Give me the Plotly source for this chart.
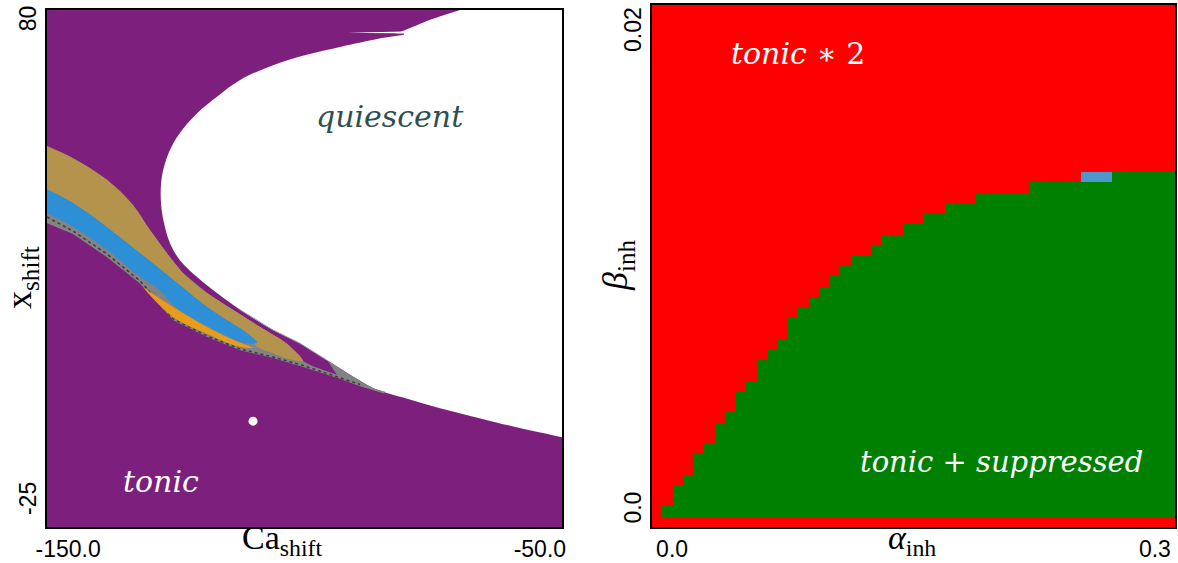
import plotly.graph_objects as go

# ---------------- left panel: regions in (Ca_shift, x_shift) ----------------
quiescent_ca = [-64.0, -40.0, -40.0, -44.6, -60.7, -67.2, -73.7, -80.2, -86.6, -90.5,
                -95.7, -100.9, -106.1, -112.5, -117.0, -120.9, -124.2, -126.1, -127.4,
                -127.9, -127.7, -126.4, -124.2, -120.9, -117.0, -112.5, -106.1, -99.6,
                -93.1, -85.3, -80.9, -75.6, -69.8]
quiescent_x = [82.0, 90.0, -8.6, -7.9, -4.3, -2.6, -0.9, 1.1, 3.2, 5.5,
               8.9, 12.3, 15.0, 19.1, 22.5, 25.8, 29.2, 32.6, 37.3,
               41.4, 46.1, 50.9, 55.0, 59.0, 62.4, 65.8, 68.8, 70.9,
               72.5, 74.3, 75.73, 78.0, 80.0]
spike_ca = [-91.6, -80.7, -80.7]
spike_x = [75.4, 75.63, 75.24]
sliver_ca = [-86.9, -80.7, -80.7, -85.3, -86.9]
sliver_x = [75.16, 75.24, 74.96, 74.31, 74.0]

tan_upper_ca = [-151.0, -144.95, -138.35, -133.3, -130.0, -126.7, -123.6, -118.9,
                -113.9, -108.6, -103.4, -100.3]
tan_upper_x = [52.8, 49.9, 45.5, 40.4, 35.3, 30.6, 26.6, 22.5, 19.1, 15.6, 12.2, 8.7]
tan_lower_ca = [-102.2, -106.1, -109.2, -111.2, -115.0, -118.9, -125.5, -131.9,
                -138.35, -144.95, -151.0]
tan_lower_x = [8.9, 10.3, 11.6, 14.4, 17.0, 19.7, 25.2, 30.6, 35.9, 40.8, 44.1]

blue_ca = [-151.0, -144.95, -138.35, -131.9, -125.5, -118.9, -115.0, -111.2, -109.2,
           -112.5, -118.9, -125.5, -128.1, -131.9, -138.35, -144.95, -151.0]
blue_x = [44.1, 40.8, 35.9, 30.6, 25.2, 19.7, 17.0, 14.4, 12.4,
          12.6, 15.8, 20.1, 23.1, 25.8, 31.3, 36.0, 39.2]

orange_ca = [-131.4, -125.5, -118.9, -112.5, -110.0, -112.5, -118.9, -125.5, -130.4]
orange_x = [23.7, 19.7, 15.6, 12.4, 11.4, 11.6, 14.2, 17.6, 22.5]

mixed_tip_ca = [-98.5, -93.7, -95.6, -90.6, -86.7, -84.2]
mixed_tip_x = [7.7, 5.9, 8.9, 5.5, 3.2, 2.4]
mixed_lower_ca = [-84.6, -89.2, -93.7, -100.3, -106.1, -112.5, -118.9, -125.5, -131.9,
                  -138.35, -144.95, -151.0]
mixed_lower_x = [2.1, 3.6, 5.3, 7.5, 9.3, 10.9, 13.6, 17.0, 24.4, 29.8, 34.5, 37.1]

speckle_ca = [-150.0, -144.95, -138.35, -131.9, -125.5, -118.9, -112.5, -106.1,
              -100.3, -93.7, -89.2]
speckle_x = [37.96, 35.11, 30.44, 24.96, 17.24, 13.79, 11.15, 9.52, 7.80, 5.46, 3.94]

edge_ca = [-112.5, -106.1, -100.9, -95.7]
edge_x = [19.1, 15.0, 12.3, 8.9]

marker_ca = [-110.0]
marker_x = [-3.5]

left_xtick_pos = [-145.9, -54.3]
left_xtick_text = ["-150.0", "-50.0"]
left_ytick_pos = [77.6, -19.9]
left_ytick_text = ["80", "-25"]

# ---------------- right panel: (alpha_inh, beta_inh) grid ----------------
n_alpha, n_beta = 50, 50
alpha_vals = [0.3 * i / (n_alpha - 1) for i in range(n_alpha)]
beta_vals = [0.02 * j / (n_beta - 1) for j in range(n_beta)]
# number of green ("tonic + suppressed") rows above the bottom row, per alpha column
green_rows = [0, 1, 3, 4, 6, 7, 9, 10, 12, 13, 15, 16, 17, 19, 20, 21, 22, 23, 24,
              25, 25, 26, 27, 27, 28, 28, 29, 29, 30, 30, 30,
              31, 31, 31, 31, 31, 32, 32, 32, 32, 32, 32, 32, 32,
              33, 33, 33, 33, 33, 33]
blue_cols = [41, 42, 43]
blue_row = 33

right_xtick_pos = [0.0087, 0.2913]
right_xtick_text = ["0.0", "0.3"]
right_ytick_pos = [0.01911, 0.00042]
right_ytick_text = ["0.02", "0.0"]

z = []
for j in range(n_beta):
    row = []
    for i in range(n_alpha):
        v = 0
        if 1 <= j <= green_rows[i]:
            v = 1
        if i in blue_cols and j == blue_row:
            v = 2
        row.append(v)
    z.append(row)

PURPLE = "#7D1F7D"
TAN = "#B4944C"
BLUE = "#2D8FD6"
ORANGE = "#E89C1A"
GRAY = "#838383"

fig = go.Figure()


def poly(xs, ys, color, shape="linear", smooth=0.0):
    line = dict(width=0, color=color, shape=shape)
    if shape == "spline":
        line["smoothing"] = smooth
    fig.add_trace(go.Scatter(x=xs, y=ys, mode="lines", fill="toself", fillcolor=color,
                             line=line, hoverinfo="skip",
                             showlegend=False, xaxis="x", yaxis="y"))


poly(quiescent_ca, quiescent_x, "white", "spline", 1.0)
poly(spike_ca, spike_x, "white")
poly(sliver_ca, sliver_x, PURPLE)
poly(tan_upper_ca + mixed_tip_ca + mixed_lower_ca,
     tan_upper_x + mixed_tip_x + mixed_lower_x, GRAY)
fig.add_trace(go.Scatter(x=speckle_ca, y=speckle_x, mode="lines",
                         line=dict(width=1.5, color="#3c3c3c", dash="dot"),
                         hoverinfo="skip", showlegend=False, xaxis="x", yaxis="y"))
fig.add_trace(go.Scatter(x=edge_ca, y=edge_x, mode="lines",
                         line=dict(width=1, color="#9a98a8"), hoverinfo="skip",
                         showlegend=False, xaxis="x", yaxis="y"))
poly(tan_upper_ca + tan_lower_ca, tan_upper_x + tan_lower_x, TAN, "spline", 1.0)
poly(blue_ca, blue_x, BLUE, "spline", 1.0)
poly(orange_ca, orange_x, ORANGE, "spline", 1.0)
fig.add_trace(go.Scatter(x=marker_ca, y=marker_x, mode="markers",
                         marker=dict(color="white", size=9, line=dict(width=0)),
                         hoverinfo="skip", showlegend=False, xaxis="x", yaxis="y"))

fig.add_trace(go.Heatmap(x=alpha_vals, y=beta_vals, z=z, zmin=0, zmax=2,
                         colorscale=[[0, "#FF0000"], [0.333, "#FF0000"],
                                     [0.334, "#008000"], [0.666, "#008000"],
                                     [0.667, "#4F96CC"], [1, "#4F96CC"]],
                         showscale=False, hoverinfo="skip", xaxis="x2", yaxis="y2"))

tickfont = dict(family="Liberation Sans", size=23, color="black")
axis_common = dict(showgrid=False, zeroline=False, showline=True, linecolor="black",
                   linewidth=2, mirror=True, ticks="", tickfont=tickfont,
                   automargin=False)

fig.update_layout(
    width=1178, height=563,
    margin=dict(l=0, r=0, t=0, b=0),
    paper_bgcolor="white", plot_bgcolor=PURPLE,
    xaxis=dict(domain=[47 / 1178, 562 / 1178], range=[-150, -50], anchor="y",
               tickvals=left_xtick_pos, ticktext=left_xtick_text, **axis_common),
    yaxis=dict(domain=[36 / 563, 553 / 563], range=[-25, 80], anchor="x",
               tickvals=left_ytick_pos, ticktext=left_ytick_text, tickangle=-90,
               **axis_common),
    xaxis2=dict(domain=[652 / 1178, 1175 / 1178],
                range=[-0.15 / 49, 0.3 + 0.15 / 49], anchor="y2",
                tickvals=right_xtick_pos, ticktext=right_xtick_text, **axis_common),
    yaxis2=dict(domain=[36 / 563, 558 / 563],
                range=[-0.01 / 49, 0.02 + 0.01 / 49], anchor="x2",
                tickvals=right_ytick_pos, ticktext=right_ytick_text, tickangle=-90,
                **axis_common),
)

serif = "Liberation Serif"
mathit = "DejaVu Serif"
annotations = [
    dict(x=-127.9, y=-15.7, xref="x", yref="y", text="<i>tonic</i>",
         font=dict(family=mathit, size=30, color="white")),
    dict(x=-83.4, y=58.3, xref="x", yref="y", text="<i>quiescent</i>",
         font=dict(family=mathit, size=30, color="#2F4F4F")),
    dict(x=0.0824, y=0.01829, xref="x2", yref="y2", text="<i>tonic</i> ∗ 2",
         font=dict(family=mathit, size=30, color="white")),
    dict(x=0.2017, y=0.002332, xref="x2", yref="y2",
         text="<i>tonic</i> + <i>suppressed</i>",
         font=dict(family=mathit, size=29, color="white")),
    dict(x=282 / 1178, y=1 - 540 / 563, xref="paper", yref="paper",
         text="Ca<sub>shift</sub>", font=dict(family=serif, size=34, color="black")),
    dict(x=21 / 1178, y=1 - 278 / 563, xref="paper", yref="paper", textangle=-90,
         text="x<sub>shift</sub>", font=dict(family=serif, size=36, color="black")),
    dict(x=618 / 1178, y=1 - 265 / 563, xref="paper", yref="paper", textangle=-90,
         text="<i>β</i><sub>inh</sub>", font=dict(family=serif, size=36, color="black")),
    dict(x=912 / 1178, y=1 - 540 / 563, xref="paper", yref="paper",
         text="<i>α</i><sub>inh</sub>", font=dict(family=serif, size=34, color="black")),
]
for a in annotations:
    a.setdefault("showarrow", False)
    a["xanchor"] = "center"
    a["yanchor"] = "middle"
fig.update_layout(annotations=annotations)

fig.write_html("out.html")
